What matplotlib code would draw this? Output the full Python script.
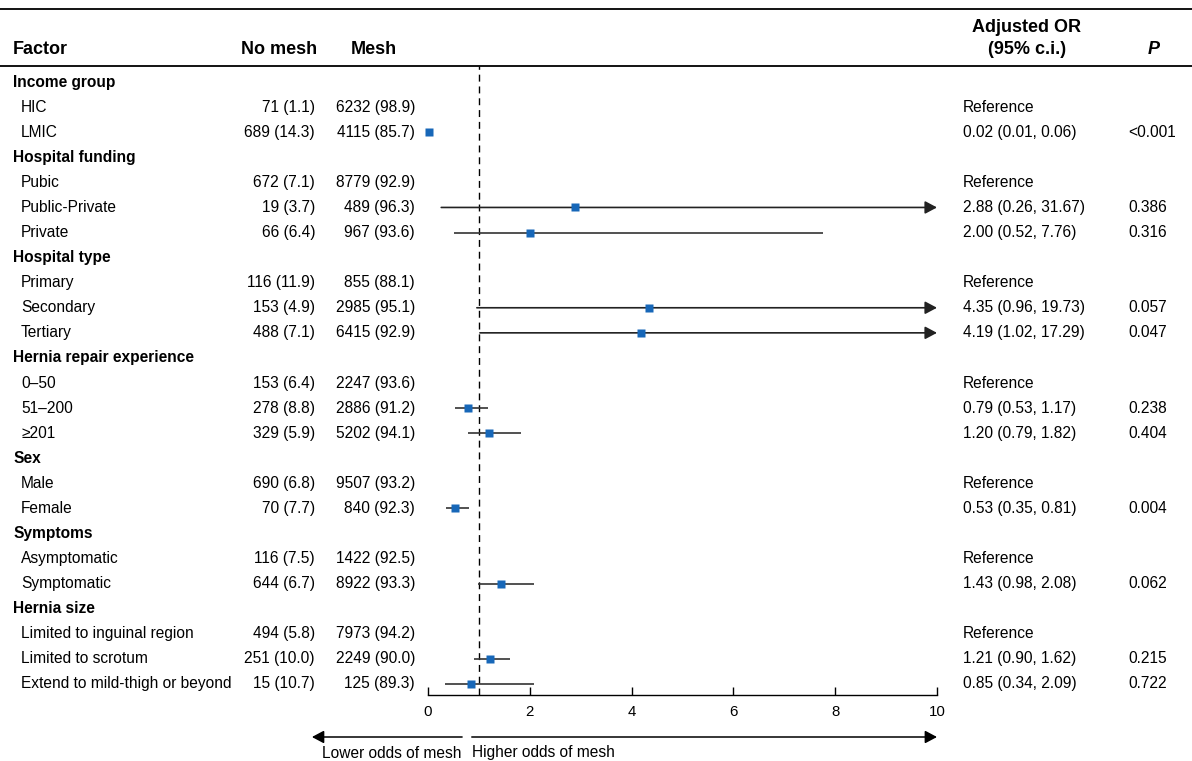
import matplotlib
matplotlib.use('Agg')
import matplotlib.pyplot as plt
import matplotlib.transforms as mtransforms

plt.rcParams['font.family'] = ['Liberation Sans', 'DejaVu Sans']

# table data
groups = ['Income group', 'Hospital funding', 'Hospital type', 'Hernia repair experience',
          'Sex', 'Symptoms', 'Hernia size']
levels = [['HIC', 'LMIC'],
          ['Pubic', 'Public-Private', 'Private'],
          ['Primary', 'Secondary', 'Tertiary'],
          ['0\u201350', '51\u2013200', '\u2265201'],
          ['Male', 'Female'],
          ['Asymptomatic', 'Symptomatic'],
          ['Limited to inguinal region', 'Limited to scrotum', 'Extend to mild-thigh or beyond']]
no_mesh_n = [71, 689, 672, 19, 66, 116, 153, 488, 153, 278, 329, 690, 70, 116, 644, 494, 251, 15]
no_mesh_pct = [1.1, 14.3, 7.1, 3.7, 6.4, 11.9, 4.9, 7.1, 6.4, 8.8, 5.9, 6.8, 7.7, 7.5, 6.7, 5.8, 10.0, 10.7]
mesh_n = [6232, 4115, 8779, 489, 967, 855, 2985, 6415, 2247, 2886, 5202, 9507, 840, 1422, 8922, 7973, 2249, 125]
mesh_pct = [98.9, 85.7, 92.9, 96.3, 93.6, 88.1, 95.1, 92.9, 93.6, 91.2, 94.1, 93.2, 92.3, 92.5, 93.3, 94.2, 90.0, 89.3]
odds_ratio = [None, 0.02, None, 2.88, 2.00, None, 4.35, 4.19, None, 0.79, 1.20, None, 0.53, None, 1.43, None, 1.21, 0.85]
ci_low = [None, 0.01, None, 0.26, 0.52, None, 0.96, 1.02, None, 0.53, 0.79, None, 0.35, None, 0.98, None, 0.90, 0.34]
ci_high = [None, 0.06, None, 31.67, 7.76, None, 19.73, 17.29, None, 1.17, 1.82, None, 0.81, None, 2.08, None, 1.62, 2.09]
p_values = [None, '<0.001', None, '0.386', '0.316', None, '0.057', '0.047', None, '0.238', '0.404',
            None, '0.004', None, '0.062', None, '0.215', '0.722']

W, H = 1192, 761
XMAX = 10
BLUE = '#1767B8'
FS = 11.2


def fx(px):
    return px / W


def fy(py):
    return 1 - py / H


fig = plt.figure(figsize=(W / 100, H / 100), dpi=100)
ax = fig.add_axes([fx(428), fy(695), fx(937) - fx(428), fy(66) - fy(695)])

n_rows = len(groups) + sum(len(l) for l in levels)
ax.set_xlim(0, XMAX)
ax.set_ylim(n_rows - 0.56, -0.64)

trans = mtransforms.blended_transform_factory(fig.transFigure, ax.transData)

row = 0
k = 0
for g, labs in zip(groups, levels):
    ax.text(fx(13), row, g, transform=trans, fontsize=FS, fontweight='bold', va='center', ha='left')
    row += 1
    for lab in labs:
        ax.text(fx(21), row, lab, transform=trans, fontsize=FS, va='center', ha='left')
        ax.text(fx(315), row, f'{no_mesh_n[k]} ({no_mesh_pct[k]:.1f})', transform=trans,
                fontsize=FS, va='center', ha='right')
        ax.text(fx(415), row, f'{mesh_n[k]} ({mesh_pct[k]:.1f})', transform=trans,
                fontsize=FS, va='center', ha='right')
        if odds_ratio[k] is None:
            ax.text(fx(963), row, 'Reference', transform=trans, fontsize=FS, va='center', ha='left')
        else:
            or_txt = f'{odds_ratio[k]:.2f} ({ci_low[k]:.2f}, {ci_high[k]:.2f})'
            ax.text(fx(963), row, or_txt, transform=trans, fontsize=FS, va='center', ha='left')
            ax.text(fx(1128), row, p_values[k], transform=trans, fontsize=FS, va='center', ha='left')
            if ci_high[k] > XMAX:
                ax.annotate('', xy=(XMAX, row), xytext=(ci_low[k], row), annotation_clip=False,
                            arrowprops=dict(arrowstyle='-|>,head_length=0.6,head_width=0.32',
                                            mutation_scale=12, color='#222222', lw=1.2,
                                            shrinkA=0, shrinkB=0))
            else:
                ax.plot([ci_low[k], ci_high[k]], [row, row], color='#333333', lw=1.2,
                        solid_capstyle='butt', zorder=2)
            ax.plot(odds_ratio[k], row, 's', color=BLUE, ms=5.4, mec='none', zorder=3, clip_on=False)
        row += 1
        k += 1

# null line
ax.axvline(1, color='black', lw=1, ls=(0, (5, 3.5)), zorder=1)

ax.set_yticks([])
for s in ['left', 'right', 'top']:
    ax.spines[s].set_visible(False)
ax.spines['bottom'].set_linewidth(1)
ax.set_xticks([0, 2, 4, 6, 8, 10])
ax.tick_params(axis='x', direction='in', length=6, width=1, pad=7, labelsize=10.8)

# header
fig.add_artist(plt.Line2D([0, 1], [fy(9), fy(9)], transform=fig.transFigure, color='black', lw=1.3))
fig.add_artist(plt.Line2D([0, 1], [fy(66), fy(66)], transform=fig.transFigure, color='black', lw=1.3))
hy = fy(50)
fig.text(fx(13), hy, 'Factor', fontsize=13, fontweight='bold', va='center', ha='left')
fig.text(fx(317), hy, 'No mesh', fontsize=13, fontweight='bold', va='center', ha='right')
fig.text(fx(374), hy, 'Mesh', fontsize=13, fontweight='bold', va='center', ha='center')
fig.text(fx(1027), fy(27), 'Adjusted OR', fontsize=13, fontweight='bold', va='center', ha='center')
fig.text(fx(1027), hy, '(95% c.i.)', fontsize=13, fontweight='bold', va='center', ha='center')
fig.text(fx(1154), hy, 'P', fontsize=13, fontweight='bold', style='italic', va='center', ha='center')

# direction arrows under the axis
trans2 = mtransforms.blended_transform_factory(ax.transData, fig.transFigure)
ay = fy(737)
ax.annotate('', xy=(-2.28, ay), xytext=(0.67, ay), xycoords=trans2, textcoords=trans2,
            annotation_clip=False,
            arrowprops=dict(arrowstyle='-|>,head_length=0.6,head_width=0.32', mutation_scale=12,
                            color='black', lw=1.1, shrinkA=0, shrinkB=0))
ax.annotate('', xy=(XMAX, ay), xytext=(0.86, ay), xycoords=trans2, textcoords=trans2,
            annotation_clip=False,
            arrowprops=dict(arrowstyle='-|>,head_length=0.6,head_width=0.32', mutation_scale=12,
                            color='black', lw=1.1, shrinkA=0, shrinkB=0))
fig.text(fx(462), fy(753), 'Lower odds of mesh', fontsize=FS, va='center', ha='right')
fig.text(fx(472), fy(753), 'Higher odds of mesh', fontsize=FS, va='center', ha='left')

fig.savefig('out.png', dpi=100)
